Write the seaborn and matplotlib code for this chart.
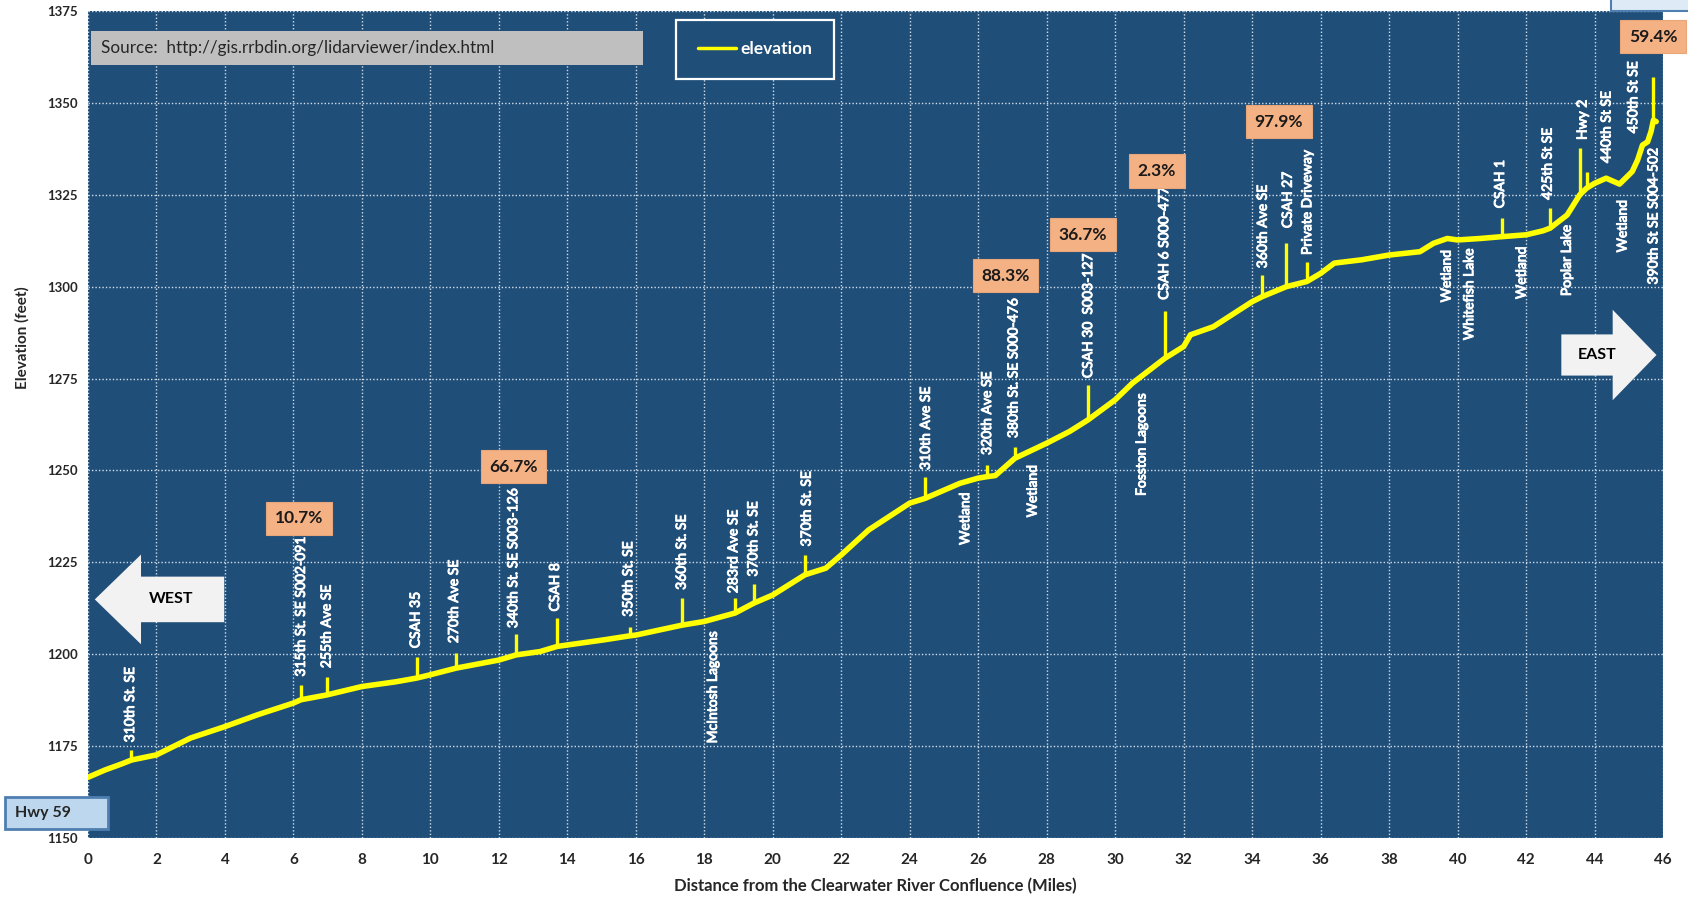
import pandas as pd
import matplotlib.pyplot as plt
import matplotlib.patches as mpatches
import matplotlib.patheffects as pe
from matplotlib.lines import Line2D
from matplotlib.ticker import MultipleLocator
import seaborn as sns

# -----------------------------
# DATA
# -----------------------------
miles = [0.0, 0.5, 1.0, 1.27, 2.0, 3.0, 4.0, 4.95, 6.0, 6.22, 6.97, 8.0, 9.0, 9.6,
         10.0, 10.75, 12.0, 12.5, 13.2, 13.7, 14.0, 15.07, 15.83, 16.0, 17.35, 18.0,
         18.9, 19.45, 20.0, 20.94, 21.55, 22.0, 22.8, 24.0, 24.45, 25.47, 26.0, 26.26,
         26.5, 27.07, 28.0, 28.67, 29.2, 30.0, 30.5, 31.45, 32.0, 32.2, 32.87, 34.0,
         34.3, 35.0, 35.6, 36.0, 36.4, 37.2, 38.0, 38.9, 39.3, 39.7, 40.0, 40.66,
         41.3, 42.0, 42.5, 42.7, 43.2, 43.57, 43.77, 44.0, 44.34, 44.73, 45.1, 45.26,
         45.4, 45.55, 45.65, 45.72, 45.8]
elevation = [1166.5, 1168.5, 1170.2, 1171.2, 1172.6, 1177.2, 1180.3, 1183.5, 1186.7,
             1187.6, 1188.9, 1191.2, 1192.5, 1193.5, 1194.4, 1196.2, 1198.4, 1199.8,
             1200.7, 1202.1, 1202.5, 1203.9, 1205.0, 1205.2, 1207.9, 1208.9, 1211.2,
             1213.9, 1216.1, 1221.6, 1223.4, 1227.0, 1233.8, 1241.1, 1242.4, 1246.5,
             1247.9, 1248.3, 1248.6, 1253.3, 1257.4, 1260.6, 1263.7, 1269.2, 1273.7,
             1280.5, 1283.7, 1286.9, 1289.1, 1295.9, 1297.3, 1300.0, 1301.4, 1303.6,
             1306.4, 1307.3, 1308.6, 1309.5, 1311.8, 1313.1, 1312.7, 1313.1, 1313.6,
             1314.1, 1315.2, 1315.9, 1319.5, 1325.0, 1326.8, 1328.1, 1329.5, 1327.9,
             1331.3, 1334.5, 1338.5, 1339.4, 1342.2, 1345.3, 1344.9]

# road crossings show up as spikes in the lidar profile
crossing_miles = [1.27, 6.22, 6.97, 9.6, 10.75, 12.5, 13.7, 15.83, 17.35, 18.9, 19.45,
                  20.94, 24.45, 26.26, 27.07, 29.2, 31.45, 34.3, 35.0, 35.6, 41.3,
                  42.7, 43.57, 43.77, 45.72]
crossing_base = [1171.2, 1187.6, 1188.9, 1193.5, 1196.2, 1199.8, 1202.1, 1205.0,
                 1207.9, 1211.2, 1213.9, 1221.6, 1242.4, 1248.3, 1253.3, 1263.7,
                 1280.5, 1297.3, 1300.0, 1301.4, 1313.6, 1315.9, 1325.0, 1326.8, 1345.3]
crossing_top = [1174.0, 1191.6, 1193.9, 1199.3, 1200.4, 1205.5, 1209.8, 1207.5,
                1215.2, 1215.2, 1219.0, 1227.0, 1248.3, 1251.5, 1256.5, 1273.3,
                1293.4, 1303.2, 1311.8, 1306.8, 1318.8, 1321.3, 1337.6, 1331.3, 1357.1]

road_names = ["310th St. SE", "315th St. SE S002-091", "255th Ave SE", "CSAH 35",
              "270th Ave SE", "340th St. SE S003-126", "CSAH 8", "350th St. SE",
              "360th St. SE", "283rd Ave SE", "370th St. SE", "370th St. SE",
              "310th Ave SE", "320th Ave SE", "380th St. SE S000-476",
              "CSAH 30  S003-127", "CSAH 6 S000-477", "360th Ave SE", "CSAH 27",
              "Private Driveway", "CSAH 1", "425th St SE", "Hwy 2", "440th St SE",
              "450th St SE"]
low_names = ["McIntosh Lagoons", "Wetland", "Wetland", "Fosston Lagoons", "Wetland",
             "Whitefish Lake", "Wetland", "Poplar Lake", "Wetland", "390th St SE S004-502"]
pct_names = ["10.7%", "66.7%", "88.3%", "36.7%", "2.3%", "97.9%", "59.4%"]

# -----------------------------
# LAYOUT (label anchors in data units)
# -----------------------------
road_pos = [(1.23, 1176.0), (6.22, 1193.9), (6.97, 1196.2), (9.57, 1201.6),
            (10.69, 1203.0), (12.42, 1207.1), (13.64, 1211.6), (15.78, 1210.2),
            (17.34, 1217.5), (18.85, 1216.6), (19.43, 1221.1), (20.99, 1229.3),
            (24.47, 1250.1), (26.26, 1254.2), (27.03, 1258.8), (29.21, 1275.1),
            (31.43, 1296.4), (34.31, 1305.0), (35.04, 1315.9), (35.61, 1308.6),
            (41.24, 1321.3), (42.63, 1323.6), (43.65, 1339.9), (44.35, 1333.6),
            (45.13, 1341.7)]
low_pos = [(18.25, 1206.2), (25.62, 1244.0), (27.59, 1251.5), (30.77, 1271.0),
           (39.68, 1310.0), (40.34, 1310.4), (41.87, 1310.9), (43.19, 1316.8),
           (44.82, 1323.6), (45.72, 1337.6)]
pct_pos = [(6.17, 1237.0), (12.43, 1251.0), (26.8, 1303.0), (29.06, 1314.1),
           (31.22, 1331.5), (34.78, 1344.9), (45.72, 1368.0)]

BLUE = "#1F4E79"
YELLOW = "#FFFF00"
ORANGE = "#F4B183"
GRID = "#D2DEEA"
DARK = "#262626"

sns.set_style("white")
plt.rcParams["font.family"] = ["Lato", "DejaVu Sans"]

fig = plt.figure(figsize=(16.88, 8.99), dpi=100)
ax = fig.add_axes([0.0521, 0.0679, 0.9331, 0.9199])
ax.set_facecolor(BLUE)

df = pd.DataFrame({"mile": miles, "elevation": elevation})
sns.lineplot(data=df, x="mile", y="elevation", color=YELLOW, linewidth=4, ax=ax,
             zorder=4, legend=False)
ax.vlines(crossing_miles, crossing_base, crossing_top, color=YELLOW, linewidth=2.4, zorder=4)

ax.set_xlim(0, 46)
ax.set_ylim(1150, 1375)
ax.xaxis.set_major_locator(MultipleLocator(2))
ax.xaxis.set_minor_locator(MultipleLocator(0.5))
ax.yaxis.set_major_locator(MultipleLocator(25))
ax.grid(True, which="major", color=GRID, linestyle=(0, (1, 1.5)), linewidth=1.0)
ax.set_axisbelow(True)
for s in ax.spines.values():
    s.set_visible(False)
ax.tick_params(axis="x", which="major", direction="out", length=5, color="#A6A6A6",
               labelsize=11, pad=6)
ax.tick_params(axis="x", which="minor", direction="out", length=3, color="#BFBFBF")
ax.tick_params(axis="y", which="major", direction="out", length=4, color="#BFBFBF",
               labelsize=9.5)
for lab in ax.get_xticklabels() + ax.get_yticklabels():
    lab.set_fontweight("bold")
    lab.set_color(DARK)
ax.set_xlabel("Distance from the Clearwater River Confluence (Miles)", fontsize=12,
              fontweight="bold", color=DARK, labelpad=8)
ax.set_ylabel("Elevation (feet)", fontsize=11, fontweight="bold", color=DARK)
ax.yaxis.set_label_coords(-0.037, 0.605)

# crossing / feature labels (a thin white stroke gives them the heavier look)
thick = [pe.withStroke(linewidth=0.7, foreground="white")]
for name, (x, y) in zip(road_names, road_pos):
    ax.text(x, y, name, rotation=90, ha="center", va="bottom", color="white",
            fontsize=10, zorder=5, path_effects=thick)
for name, (x, y) in zip(low_names, low_pos):
    ax.text(x, y, name, rotation=90, ha="center", va="top", color="white",
            fontsize=10, zorder=5, path_effects=thick)
for name, (x, y) in zip(pct_names, pct_pos):
    ax.text(x, y, name, ha="center", va="center", color="#1A1A1A", fontsize=12.5,
            fontweight="bold", zorder=6, clip_on=False,
            bbox=dict(boxstyle="square,pad=0.5", facecolor=ORANGE, edgecolor="#E9A679",
                      linewidth=0.8))

# direction arrows
ax.add_patch(mpatches.FancyArrow(3.98, 1214.9, -3.78, 0, width=12.4, head_width=24.4,
                                 head_length=1.35, length_includes_head=True,
                                 facecolor="#F2F2F2", edgecolor="none", zorder=5))
ax.text(2.42, 1214.9, "WEST", ha="center", va="center", fontsize=11.5,
        fontweight="bold", color="black", zorder=6)
ax.add_patch(mpatches.FancyArrow(43.03, 1281.4, 2.78, 0, width=11.2, head_width=24.6,
                                 head_length=1.28, length_includes_head=True,
                                 facecolor="#F2F2F2", edgecolor="none", zorder=5))
ax.text(44.08, 1281.4, "EAST", ha="center", va="center", fontsize=11.5,
        fontweight="bold", color="black", zorder=6)

# source box
ax.add_patch(mpatches.Rectangle((0.0022, 0.9352), 0.3505, 0.0404, transform=ax.transAxes,
                                facecolor="#BFBFBF", edgecolor="none", zorder=5))
ax.text(0.0084, 0.9554, "Source:  http://gis.rrbdin.org/lidarviewer/index.html",
        transform=ax.transAxes, ha="left", va="center", fontsize=12.3, color=DARK, zorder=6)

# legend
leg = ax.legend(handles=[Line2D([], [], color=YELLOW, linewidth=2.5)], labels=["elevation"],
                loc="upper center", bbox_to_anchor=(0.4235, 0.9896), borderaxespad=0,
                frameon=True, fancybox=False, facecolor=BLUE, edgecolor="white",
                framealpha=1, borderpad=1.25, handlelength=2.2, handletextpad=0.25,
                prop={"weight": "bold", "size": 12.5})
leg.get_frame().set_linewidth(1.6)
for t in leg.get_texts():
    t.set_color("white")

# Hwy 59 box at the left edge and the cut-off box in the top right corner
fig.patches.append(mpatches.Rectangle((0.0032, 0.0779), 0.0606, 0.036, transform=fig.transFigure,
                                      facecolor="#BDD7EE", edgecolor="#4F7FB0", linewidth=2))
fig.text(0.0089, 0.0959, "Hwy 59", ha="left", va="center", fontsize=11.5,
         fontweight="bold", color=DARK)
fig.patches.append(mpatches.Rectangle((0.9544, 0.9878), 0.06, 0.03, transform=fig.transFigure,
                                      facecolor="#DEEBF7", edgecolor="#4F7FB0", linewidth=1.5))

fig.savefig("out.png", dpi=100)
